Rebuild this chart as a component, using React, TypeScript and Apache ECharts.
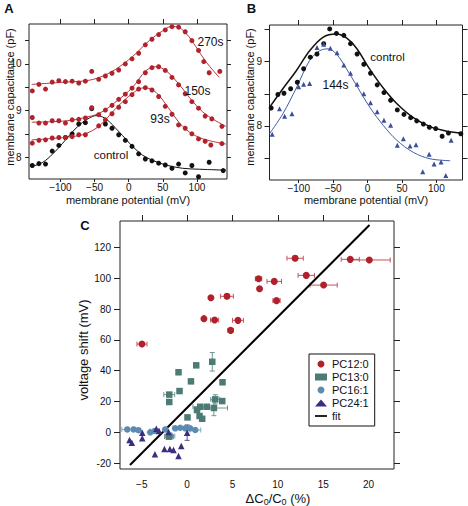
import React, { useEffect, useRef } from "react";
import * as echarts from "echarts";

const FONT = '"Liberation Sans", Arial, Helvetica, sans-serif';

// ---------- Panel A (membrane potential mV, capacitance pF) ----------
const controlA: number[][] = [
  [-141.2, 7.82], [-131.5, 7.86], [-121.8, 7.85], [-112, 8.13], [-102.3, 8.25], [-92.6, 8.42],
  [-82.8, 8.5], [-73.1, 8.71], [-63.4, 8.74], [-54.1, 9.04], [-34.1, 8.71], [-24.4, 8.62],
  [-14.6, 8.48], [-4.9, 8.36], [4.9, 8.23], [14.6, 8.07], [24.4, 7.96], [34.1, 7.92],
  [43.9, 7.87], [53.6, 7.83], [63.4, 7.76], [73.1, 7.85], [82.8, 7.66], [92.6, 7.82],
  [102.3, 7.58], [117.9, 7.89], [138.4, 7.71],
];
const s93A: number[][] = [
  [-141.2, 8.3], [-131.5, 8.36], [-121.8, 8.37], [-112, 8.41], [-102.3, 8.42], [-92.6, 8.42],
  [-82.8, 8.44], [-73.1, 8.48], [-63.4, 8.48], [-43.9, 8.67], [-34.1, 8.8], [-24.4, 8.93],
  [-14.6, 9.07], [-4.9, 9.19], [4.9, 9.34], [14.6, 9.46], [24.4, 9.49], [34.1, 9.44],
  [43.9, 9.3], [53.6, 9.09], [63.4, 8.92], [73.1, 8.69], [82.8, 8.62], [92.6, 8.5],
  [102.3, 8.39], [112, 8.34], [120.3, 8.26], [136.5, 8.29],
];
const s150A: number[][] = [
  [-141.2, 8.85], [-131.5, 8.73], [-121.8, 8.73], [-112, 8.78], [-102.3, 8.78], [-92.6, 8.73],
  [-82.8, 8.8], [-73.1, 8.81], [-63.4, 8.84], [-54.1, 9.06], [-43.9, 8.91], [-34.1, 9.01],
  [-24.4, 9.11], [-14.6, 9.24], [-4.9, 9.35], [4.9, 9.48], [14.6, 9.62], [24.4, 9.81],
  [34.1, 9.92], [43.9, 9.94], [53.6, 9.86], [63.4, 9.71], [73.1, 9.55], [82.8, 9.36],
  [92.6, 9.19], [102.3, 9.05], [112, 8.88], [121.8, 8.82], [136.5, 8.66],
];
const s270A: number[][] = [
  [-141.2, 9.42], [-131.5, 9.56], [-121.8, 9.46], [-112, 9.61], [-102.3, 9.64], [-92.6, 9.62],
  [-82.8, 9.63], [-73.1, 9.59], [-63.4, 9.63], [-54.1, 9.84], [-43.9, 9.67], [-34.1, 9.74],
  [-24.4, 9.8], [-14.6, 9.87], [-4.9, 10.0], [4.9, 10.11], [14.6, 10.23], [24.4, 10.41],
  [34.1, 10.53], [43.9, 10.63], [53.6, 10.73], [63.4, 10.8], [73.1, 10.79], [82.8, 10.69],
  [92.6, 10.5], [102.3, 10.29], [110, 10.05], [117.9, 9.81], [133.5, 9.84],
];
const fitControlA: number[][] = [
  [-141.2, 7.8], [-125.7, 7.89], [-111.1, 8.07], [-96.5, 8.3], [-81.9, 8.55], [-67.3, 8.75],
  [-57.5, 8.84], [-47.8, 8.89], [-38, 8.86], [-28.3, 8.76], [-18.5, 8.61], [-8.8, 8.46],
  [1, 8.3], [10.7, 8.16], [20.5, 8.04], [35.1, 7.93], [54.6, 7.83], [79, 7.76], [103.3, 7.74],
  [142.3, 7.72],
];
const fit93A: number[][] = [
  [-142, 8.37], [-112, 8.4], [-82.8, 8.44], [-63.4, 8.5], [-43, 8.67], [-18.5, 9.05],
  [5.8, 9.37], [22.9, 9.49], [40, 9.39], [59.5, 9.03], [78.9, 8.66], [103.3, 8.42], [142.3, 8.28],
];
const fit150A: number[][] = [
  [-142, 8.75], [-112, 8.76], [-82.8, 8.79], [-67.3, 8.84], [-43, 8.94], [-18.5, 9.19],
  [5.8, 9.5], [25, 9.85], [40, 9.94], [55, 9.85], [74.5, 9.55], [94, 9.19], [113.5, 8.91],
  [142.3, 8.66],
];
const fit270A: number[][] = [
  [-142, 9.56], [-92.6, 9.61], [-62.4, 9.64], [-43, 9.71], [-18.5, 9.89], [5.8, 10.16],
  [30.2, 10.5], [49.7, 10.71], [61.9, 10.8], [69.2, 10.8], [83.8, 10.66], [98.4, 10.37],
  [113, 10.05], [132.6, 9.71],
];
const xTicksAB = [-100, -50, 0, 50, 100];
const yTicksA = [8, 8.5, 9, 9.5, 10, 10.5];
const yLabelsA = [8, 9, 10];

// ---------- Panel B ----------
const controlB: number[][] = [
  [-140, 8.28], [-130.2, 8.49], [-121.4, 8.51], [-111.7, 8.58], [-102, 8.68], [-92.8, 8.89],
  [-83.1, 9.07], [-73.4, 9.12], [-63.7, 9.28], [-55, 9.51], [-45.2, 9.44], [-34.5, 9.41],
  [-24.8, 9.28], [-15.1, 9.12], [-5.4, 8.96], [4.3, 8.82], [14, 8.64], [23.8, 8.52],
  [33.5, 8.4], [43.2, 8.25], [52.9, 8.18], [62.6, 8.13], [71.4, 8.08], [81.1, 8.03],
  [89.8, 7.98], [99, 7.96], [108.3, 7.84], [117.5, 7.89], [135.5, 7.88],
];
const s144B: number[][] = [
  [-138.5, 7.87], [-127.9, 8.27], [-120.4, 8.15], [-109.8, 8.19], [-100.1, 8.61], [-92.8, 8.65],
  [-84.1, 8.66], [-73.4, 9.22], [-63.7, 9.27], [-54, 9.21], [-44.3, 9.14], [-34.5, 8.95],
  [-24.8, 8.82], [-15.1, 8.65], [-5.4, 8.5], [4.3, 8.36], [14, 8.22], [23.8, 8.09],
  [33.5, 8.01], [43.2, 7.7], [52, 7.8], [61.7, 7.69], [70.4, 7.71], [80.2, 7.29],
  [89.4, 7.56], [96.6, 7.41], [106.8, 7.44], [113.7, 7.23], [121.4, 7.78],
];
const fitControlB: number[][] = [
  [-142.4, 8.29], [-123, 8.58], [-103.5, 8.86], [-84.1, 9.17], [-64.7, 9.38], [-45.2, 9.43],
  [-30.6, 9.37], [-16, 9.21], [3.4, 8.88], [22.8, 8.59], [42.3, 8.35], [66.5, 8.13],
  [90.8, 7.99], [115.1, 7.92], [137.9, 7.89],
];
const fit144B: number[][] = [
  [-142.4, 7.88], [-123, 8.19], [-103.5, 8.59], [-84.1, 9.02], [-69.5, 9.17], [-57.4, 9.2],
  [-45.2, 9.12], [-30.6, 8.89], [-16, 8.63], [3.4, 8.29], [22.8, 8.01], [42.3, 7.78],
  [66.5, 7.59], [90.8, 7.49], [120, 7.46],
];
const yTicksB = [7.5, 8, 8.5, 9, 9.5];
const yLabelsB = [8, 9];

// ---------- Panel C: [ΔC0/C0 %, voltage shift mV, x error, y error] ----------
const pc12: number[][] = [
  [-4.98, 57.3, 0.55, 0], [2.62, 87.4, 0, 0], [4.39, 88.3, 0.7, 1.5], [1.85, 73.8, 0, 0],
  [3.03, 72.9, 0.45, 0], [5.6, 72.7, 0.6, 0], [4.79, 66.2, 0.3, 0], [7.87, 99.7, 0.35, 1],
  [7.98, 93.2, 0, 0], [9.6, 98.0, 0.8, 0], [9.85, 85.5, 0.4, 0], [11.9, 113.0, 0.9, 1.5],
  [13.13, 101.9, 0.9, 1], [15.04, 95.6, 1.5, 0], [17.98, 112.3, 1.0, 0], [20.08, 111.9, 2.3, 0],
];
const pc13: number[][] = [
  [2.77, 45.8, 0, 6], [1.0, 43.5, 0, 0], [-0.95, 39.0, 0, 0], [0.42, 33.1, 0, 0],
  [-0.84, 26.8, 0, 0], [-1.97, 24.5, 0.6, 0], [-1.97, 19.7, 0, 0], [3.9, 32.5, 0, 0],
  [3.1, 21.4, 0.5, 3], [3.87, 20.3, 0, 0], [1.44, 16.6, 0.8, 0], [2.18, 16.6, 0, 0],
  [2.95, 15.8, 1.5, 5], [1.08, 14.5, 0, 0], [1.37, 10.6, 0, 0], [1.66, 8.8, 0, 0],
  [0.04, 9.7, 0, 0], [-2.0, -2.8, 0.5, 0],
];
const pc16: number[][] = [
  [-6.6, 1.9, 0.6, 0], [-5.9, 1.9, 0, 0], [-5.36, 1.4, 0, 0], [-4.07, 0.0, 0, 0],
  [-3.6, 0.9, 0.5, 0], [-2.41, 1.9, 0, 0], [-1.86, -2.4, 0.5, 2], [-1.31, 2.6, 0, 0],
  [-0.76, 3.0, 0.8, 0], [-0.2, 2.6, 0, 0], [0.34, 2.6, 0, 0], [0.9, 1.5, 0.6, 0],
];
const pc24: number[][] = [
  [-6.35, -5.0, 0, 0], [-6.1, -6.7, 0, 0], [-4.95, -0.3, 0, 0], [-4.95, -3.9, 0, 0],
  [-3.4, 2.4, 0, 0], [-3.1, 0.9, 0, 0], [-3.55, -14.2, 0, 0], [-2.5, -10.8, 0, 0],
  [-1.9, -10.8, 0, 0], [-1.5, -11.5, 0, 0], [-0.65, -8.9, 0, 0], [-0.95, -15.4, 0, 0],
  [0.0, -0.2, 0, 5], [-2.05, 0.2, 0, 0],
];
const fitC: number[][] = [[-6.3, -21.2], [20.1, 134.6]];
const xTicksC = [-5, 0, 5, 10, 15, 20];
const yTicksC = [-20, 0, 20, 40, 60, 80, 100, 120];

// ---------- colours ----------
const RED = "#b0232c";
const RED_LINE = "#b8343b";
const BLACK = "#111111";
const BLUE_PT = "#3d4f96";
const BLUE_LINE = "#3f5ca8";
const C12 = "#b0212c";
const C13 = "#4b7b74";
const C16 = "#5b8bb0";
const C24 = "#3a2f7e";

const minusFmt = (v: number) => (v < 0 ? "\u2212" + Math.abs(v) : String(v));
const lbl = { fontFamily: FONT, fontSize: 10, color: "#111", lineHeight: 10 };
const tickLine = { color: "#222", width: 1 };
const noLine = { show: false, onZero: false };

function xPair(grid: number, min: number, max: number, ticks: number[], margin: number, botLen: number, topLen: number, fmt: any) {
  return [
    {
      gridIndex: grid, type: "value", min, max, position: "bottom",
      axisLine: noLine, splitLine: { show: false },
      axisTick: { show: botLen > 0, inside: false, length: botLen, customValues: ticks, lineStyle: tickLine },
      axisLabel: { show: true, customValues: ticks, margin, formatter: fmt, ...lbl },
    },
    {
      gridIndex: grid, type: "value", min, max, position: "top",
      axisLine: noLine, splitLine: { show: false },
      axisTick: { show: true, inside: false, length: topLen, customValues: ticks, lineStyle: tickLine },
      axisLabel: { show: false },
    },
  ];
}
function yPair(grid: number, min: number, max: number, ticks: number[], labels: number[], margin: number, len: number, fmt?: any) {
  return [
    {
      gridIndex: grid, type: "value", min, max, position: "left",
      axisLine: noLine, splitLine: { show: false },
      axisTick: { show: true, inside: false, length: len, customValues: ticks, lineStyle: tickLine },
      axisLabel: { show: true, customValues: labels, margin, formatter: fmt, ...lbl },
    },
    {
      gridIndex: grid, type: "value", min, max, position: "right",
      axisLine: noLine, splitLine: { show: false },
      axisTick: { show: true, inside: false, length: len, customValues: ticks, lineStyle: tickLine },
      axisLabel: { show: false },
    },
  ];
}

function pts(name: string, data: number[][], xi: number, yi: number, color: string, symbol: string, size: number) {
  return {
    name, type: "scatter", xAxisIndex: xi, yAxisIndex: yi, data, symbol, symbolSize: size,
    itemStyle: { color, opacity: 1 }, z: 4, silent: true,
  };
}
function curve(name: string, data: number[][], xi: number, yi: number, color: string, width: number) {
  return {
    name, type: "line", xAxisIndex: xi, yAxisIndex: yi, data, smooth: 0.35, symbol: "none",
    showSymbol: false, lineStyle: { color, width }, itemStyle: { color }, z: 3, silent: true,
  };
}
function errBars(name: string, data: number[][], color: string) {
  return {
    name, type: "custom", xAxisIndex: 4, yAxisIndex: 4, data, z: 2, silent: true,
    encode: { x: 0, y: 1 },
    renderItem: (_p: any, api: any) => {
      const x = api.value(0), y = api.value(1), xe = api.value(2), ye = api.value(3);
      const style = { stroke: color, lineWidth: 1 };
      const ch: any[] = [];
      const cap = 2.5;
      if (xe > 0) {
        const a = api.coord([x - xe, y]);
        const b = api.coord([x + xe, y]);
        ch.push({ type: "line", shape: { x1: a[0], y1: a[1], x2: b[0], y2: b[1] }, style });
        ch.push({ type: "line", shape: { x1: a[0], y1: a[1] - cap, x2: a[0], y2: a[1] + cap }, style });
        ch.push({ type: "line", shape: { x1: b[0], y1: b[1] - cap, x2: b[0], y2: b[1] + cap }, style });
      }
      if (ye > 0) {
        const a = api.coord([x, y - ye]);
        const b = api.coord([x, y + ye]);
        ch.push({ type: "line", shape: { x1: a[0], y1: a[1], x2: b[0], y2: b[1] }, style });
        ch.push({ type: "line", shape: { x1: a[0] - cap, y1: a[1], x2: a[0] + cap, y2: a[1] }, style });
        ch.push({ type: "line", shape: { x1: b[0] - cap, y1: b[1], x2: b[0] + cap, y2: b[1] }, style });
      }
      return { type: "group", children: ch };
    },
  };
}

function txt(text: string, x: number, y: number, size: number, opts: any = {}) {
  return {
    type: "text", x, y, rotation: opts.rotation || 0, z: 10,
    style: {
      text, fill: "#111", font: `${opts.bold ? "bold " : ""}${size}px ${FONT}`,
      align: opts.align || "center", verticalAlign: "middle", rich: opts.rich,
    },
  };
}

const option: any = {
  animation: false,
  backgroundColor: "#ffffff",
  textStyle: { fontFamily: FONT },
  grid: [
    { left: 29, top: 24, width: 198, height: 155, show: true, borderColor: "#222", borderWidth: 1, backgroundColor: "transparent", containLabel: false, outerBoundsMode: "none" },
    { left: 269.5, top: 25, width: 193, height: 155, show: true, borderColor: "#222", borderWidth: 1, backgroundColor: "transparent", containLabel: false, outerBoundsMode: "none" },
    { left: 120, top: 221, width: 274, height: 248, show: true, borderColor: "#222", borderWidth: 1, backgroundColor: "transparent", containLabel: false, outerBoundsMode: "none" },
  ],
  xAxis: [
    ...xPair(0, -146, 144, xTicksAB, 3.5, 3, 5, minusFmt),
    ...xPair(1, -142.4, 137.9, xTicksAB, 3.5, 3, 5, minusFmt),
    ...xPair(2, -7.4, 22.8, xTicksC, 10, 0, 6, minusFmt),
  ],
  yAxis: [
    ...yPair(0, 7.53, 10.857, yTicksA, yLabelsA, 7.5, 4),
    ...yPair(1, 7.16, 9.571, yTicksB, yLabelsB, 7.5, 5),
    ...yPair(2, -23.8, 137.2, yTicksC, yTicksC, 9, 6),
  ],
  legend: {
    data: [
      { name: "PC12:0" },
      { name: "PC13:0" },
      { name: "PC16:1" },
      { name: "PC24:1" },
      { name: "fit", icon: "path://M0,0H14V2H0Z" },
    ],
    orient: "vertical", left: 309, top: 354,
    backgroundColor: "#fff", borderColor: "#111", borderWidth: 1, borderRadius: 0,
    padding: [4, 6, 4, 6], itemGap: 1, itemWidth: 12, itemHeight: 7,
    textStyle: { fontFamily: FONT, fontSize: 11, color: "#111", lineHeight: 12 },
    selectedMode: false,
  },
  series: [
    // Panel A
    curve("fit control A", fitControlA, 0, 0, BLACK, 1),
    curve("fit 93s", fit93A, 0, 0, RED_LINE, 1),
    curve("fit 150s", fit150A, 0, 0, RED_LINE, 1),
    curve("fit 270s", fit270A, 0, 0, RED_LINE, 1),
    pts("control A", controlA, 0, 0, BLACK, "circle", 5),
    pts("93s", s93A, 0, 0, RED, "circle", 5),
    pts("150s", s150A, 0, 0, RED, "circle", 5),
    pts("270s", s270A, 0, 0, RED, "circle", 5),
    // Panel B
    curve("fit control B", fitControlB, 2, 2, BLACK, 1.5),
    curve("fit 144s", fit144B, 2, 2, BLUE_LINE, 1),
    pts("control B", controlB, 2, 2, BLACK, "circle", 5),
    pts("144s", s144B, 2, 2, BLUE_PT, "triangle", 5),
    // Panel C
    errBars("err PC12:0", pc12, "#c4545c"),
    errBars("err PC13:0", pc13, "#6e9690"),
    errBars("err PC16:1", pc16, "#7ea6c4"),
    errBars("err PC24:1", pc24, "#5a4f96"),
    {
      name: "fit", type: "line", xAxisIndex: 4, yAxisIndex: 4, data: fitC, symbol: "none",
      showSymbol: false, lineStyle: { color: "#000", width: 2 }, itemStyle: { color: "#000" }, z: 3, silent: true,
    },
    pts("PC16:1", pc16, 4, 4, C16, "circle", 6.5),
    pts("PC13:0", pc13, 4, 4, C13, "rect", 6.5),
    pts("PC24:1", pc24, 4, 4, C24, "triangle", 6.5),
    pts("PC12:0", pc12, 4, 4, C12, "circle", 7),
  ],
  graphic: [
    txt("A", 9, 8, 13, { bold: true }),
    txt("B", 251.5, 8, 13, { bold: true }),
    txt("C", 85, 225, 13, { bold: true }),
    txt("membrane capacitance (pF)", 9.5, 97, 11, { rotation: Math.PI / 2 }),
    txt("membrane potential (mV)", 128, 200, 11),
    txt("membrane capacitance (pF)", 250, 97, 11, { rotation: Math.PI / 2 }),
    txt("membrane potential (mV)", 366, 200, 11),
    txt("270s", 210.5, 42, 12),
    txt("150s", 197.5, 91, 12),
    txt("93s", 160, 118.5, 12),
    txt("control", 111, 155, 11.5),
    txt("control", 387.5, 57, 11.5),
    txt("144s", 335.5, 85, 12),
    txt("voltage shift (mV)", 83, 350, 13, { rotation: Math.PI / 2 }),
    txt("\u0394C{s|0}/C{s|0} (%)", 278, 498, 13, {
      rich: { s: { fontSize: 9, fontFamily: FONT, padding: [7, 0, 0, 0] } },
    }),
  ],
};

export default function App() {
  const ref = useRef<HTMLDivElement>(null);
  useEffect(() => {
    const chart = echarts.init(ref.current!, null, { renderer: "svg" });
    chart.setOption(option);
    return () => chart.dispose();
  }, []);
  return (
    <div
      ref={ref}
      style={{ position: "fixed", left: 0, top: 0, width: 468, height: 506, background: "#fff" }}
    />
  );
}
